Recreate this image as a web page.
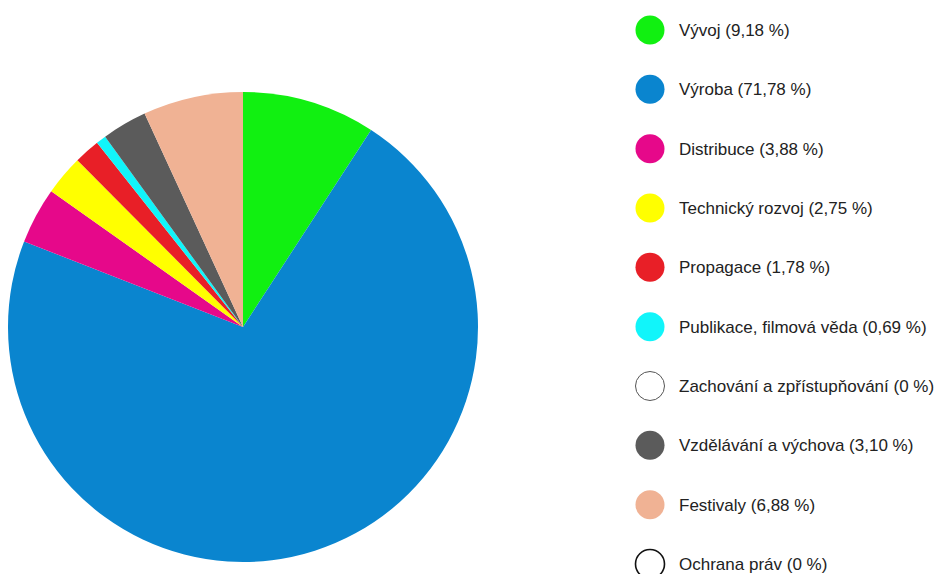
<!DOCTYPE html>
<html>
<head>
<meta charset="utf-8">
<script src="https://cdn.jsdelivr.net/npm/d3@7"></script>
<style>
  body { margin: 0; background: #fff; }
  text { font-family: 'Liberation Sans', Arial, sans-serif; }
</style>
</head>
<body>
<div id="chart"></div>
<script>
let width = 941
let height = 574

// data
let categories = [
  'Vývoj',
  'Výroba',
  'Distribuce',
  'Technický rozvoj',
  'Propagace',
  'Publikace, filmová věda',
  'Zachování a zpřístupňování',
  'Vzdělávání a výchova',
  'Festivaly',
  'Ochrana práv'
]
let shares = [9.18, 71.78, 3.88, 2.75, 1.78, 0.69, 0, 3.10, 6.88, 0]
let labels = ['9,18', '71,78', '3,88', '2,75', '1,78', '0,69', '0', '3,10', '6,88', '0']
let colors = [
  '#11f011',
  '#0a85cf',
  '#e6088a',
  '#ffff00',
  '#e81f27',
  '#11f5fa',
  '#ffffff',
  '#5b5b5b',
  '#f0b294',
  '#ffffff'
]

let datapoints = categories.map((c, i) => {
  return { name: c, value: shares[i], label: labels[i], color: colors[i] }
})

let svg = d3
  .select('#chart')
  .append('svg')
  .attr('width', width)
  .attr('height', height)

let radius = 235

let pie = d3
  .pie()
  .sort(null)
  .value(d => d.value)

let arc = d3
  .arc()
  .innerRadius(0)
  .outerRadius(radius)

let pieG = svg.append('g').attr('transform', 'translate(243,327)')

pieG
  .selectAll('path')
  .data(pie(datapoints).filter(d => d.data.value > 0))
  .enter()
  .append('path')
  .attr('d', arc)
  .attr('fill', d => d.data.color)

// legend
let yPositionScale = d3
  .scalePoint()
  .domain(categories)
  .range([30, 564])

let legend = svg
  .selectAll('.legend')
  .data(datapoints)
  .enter()
  .append('g')
  .attr('class', 'legend')
  .attr('transform', d => 'translate(0,' + yPositionScale(d.name) + ')')

legend
  .append('circle')
  .attr('cx', 650)
  .attr('cy', 0)
  .attr('r', 14.5)
  .attr('fill', d => d.color)
  .attr('stroke', (d, i) => {
    if (d.value === 0) {
      return i === categories.length - 1 ? '#111' : '#555'
    }
    return 'none'
  })
  .attr('stroke-width', (d, i) => (i === categories.length - 1 ? 1.6 : 1))

legend
  .append('text')
  .attr('x', 679)
  .attr('y', 0)
  .attr('dy', '0.36em')
  .attr('font-size', 17)
  .attr('fill', '#222')
  .text(d => d.name + ' (' + d.label + ' %)')
</script>
</body>
</html>
